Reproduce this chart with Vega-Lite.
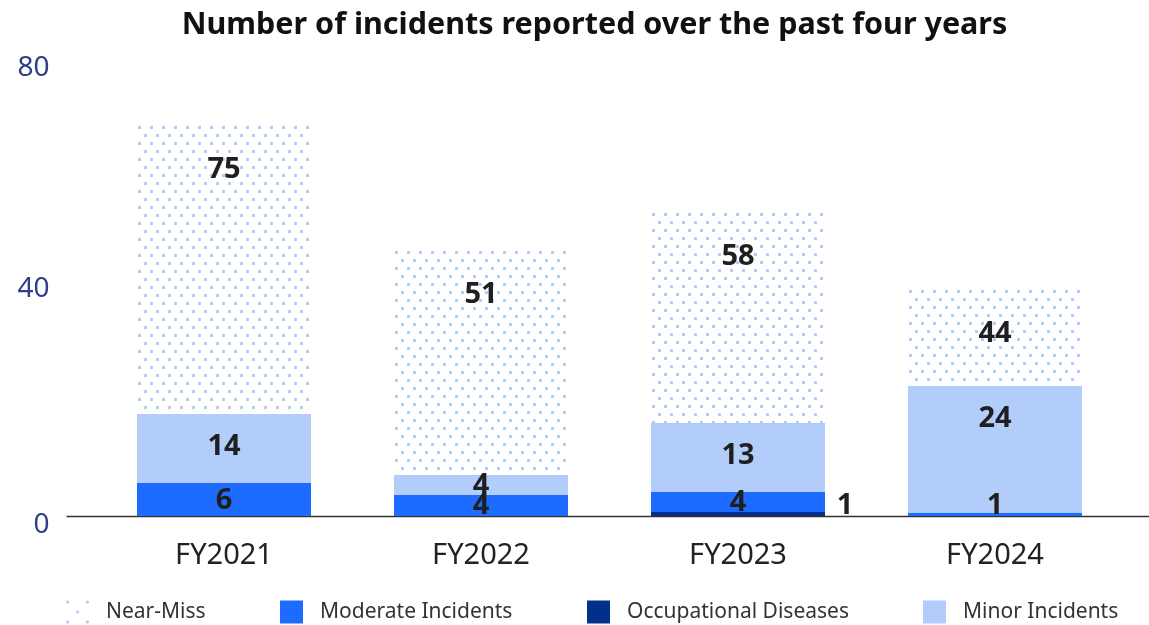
{
  "$schema": "https://vega.github.io/schema/vega-lite/v6.json",
  "width": 1083,
  "height": 443,
  "autosize": {"type": "none"},
  "padding": {"left": 66, "top": 73, "right": 0, "bottom": 109},
  "background": "white",
  "config": {"font": "Noto Sans", "view": {"stroke": null}},
  "title": {
    "text": "Number of incidents reported over the past four years",
    "fontSize": 30.5,
    "fontWeight": "bold",
    "font": "Noto Sans",
    "color": "#111111",
    "anchor": "middle",
    "offset": -2,
    "dx": -13
  },
  "data": {
    "values": [
      {"year": "FY2021", "type": "Near-Miss", "value": 75, "shown": 52.189616},
      {"year": "FY2021", "type": "Minor Incidents", "value": 14, "shown": 12.460497},
      {"year": "FY2021", "type": "Moderate Incidents", "value": 6, "shown": 5.959368},
      {"year": "FY2022", "type": "Near-Miss", "value": 51, "shown": 40.632054},
      {"year": "FY2022", "type": "Minor Incidents", "value": 4, "shown": 3.611738},
      {"year": "FY2022", "type": "Moderate Incidents", "value": 4, "shown": 3.792325},
      {"year": "FY2023", "type": "Near-Miss", "value": 58, "shown": 38.103838},
      {"year": "FY2023", "type": "Minor Incidents", "value": 13, "shown": 12.460496},
      {"year": "FY2023", "type": "Moderate Incidents", "value": 4, "shown": 3.611738},
      {"year": "FY2023", "type": "Occupational Diseases", "value": 1, "shown": 0.722348},
      {"year": "FY2024", "type": "Near-Miss", "value": 44, "shown": 17.51693},
      {"year": "FY2024", "type": "Minor Incidents", "value": 24, "shown": 22.934537},
      {"year": "FY2024", "type": "Moderate Incidents", "value": 1, "shown": 0.541761}
    ]
  },
  "transform": [
    {"calculate": "indexof(['Occupational Diseases','Moderate Incidents','Minor Incidents','Near-Miss'], datum.type)", "as": "order"},
    {"stack": "shown", "groupby": ["year"], "sort": [{"field": "order", "order": "ascending"}], "as": ["y0", "y1"]},
    {"calculate": "(datum.y0 + datum.y1) / 2", "as": "mid"},
    {"calculate": "datum.type === 'Near-Miss' ? datum.y1 - 7.9 : (datum.type === 'Minor Incidents' ? max(datum.y1 - 5.78, datum.mid) : max(datum.mid, 1.99))", "as": "labelY"}
  ],
  "encoding": {
    "x": {
      "field": "year",
      "type": "nominal",
      "sort": ["FY2021", "FY2022", "FY2023", "FY2024"],
      "scale": {"paddingInner": 0.322957, "paddingOuter": 0.2684825, "align": 0.514493},
      "axis": {
        "title": null,
        "labelAngle": 0,
        "labelFontSize": 29,
        "labelFont": "Noto Sans",
        "labelColor": "#222222",
        "ticks": false,
        "labelPadding": 24,
        "domainColor": "#333333",
        "domainWidth": 1.5
      }
    }
  },
  "layer": [
    {
      "transform": [{"filter": "datum.type !== 'Near-Miss'"}],
      "mark": {"type": "bar"},
      "encoding": {
        "y": {
          "field": "y1",
          "type": "quantitative",
          "scale": {"domain": [0, 80], "nice": false},
          "axis": {
            "title": null,
            "values": [0, 40, 80],
            "grid": false,
            "domain": false,
            "ticks": false,
            "labelFontSize": 28,
            "labelFont": "Noto Sans",
            "labelColor": "#2e3f8a",
            "labelPadding": 17,
            "labelOffset": {"condition": {"test": "datum.value === 0", "value": 8.5}, "value": -6}
          }
        },
        "y2": {"field": "y0"},
        "color": {
          "field": "type",
          "type": "nominal",
          "scale": {
            "domain": ["Near-Miss", "Moderate Incidents", "Occupational Diseases", "Minor Incidents"],
            "range": ["#b3cdfb", "#1e6cff", "#01308c", "#b3cdfb"]
          },
          "legend": {
            "orient": "none",
            "legendX": 0,
            "legendY": 527,
            "direction": "horizontal",
            "title": null,
            "padding": 0,
            "symbolSize": 529,
            "symbolType": "square",
            "symbolStrokeWidth": 0,
            "labelFontSize": 21,
            "labelFont": "Noto Sans",
            "labelColor": "#333333",
            "labelOffset": 17,
            "columnPadding": 74,
            "labelLimit": 400,
            "encode": {
              "symbols": {
                "update": {
                  "shape": {"signal": "datum.value === 'Near-Miss' ? 'M-1,-0.86a0.14,0.14 0 1,0 0.28,0a0.14,0.14 0 1,0 -0.28,0ZM0.72,-0.86a0.14,0.14 0 1,0 0.28,0a0.14,0.14 0 1,0 -0.28,0ZM-0.14,0a0.14,0.14 0 1,0 0.28,0a0.14,0.14 0 1,0 -0.28,0ZM-1,0.86a0.14,0.14 0 1,0 0.28,0a0.14,0.14 0 1,0 -0.28,0ZM0.72,0.86a0.14,0.14 0 1,0 0.28,0a0.14,0.14 0 1,0 -0.28,0Z' : 'square'"}
                }
              }
            }
          }
        }
      }
    },
    {
      "transform": [{"filter": "datum.type === 'Near-Miss'"}],
      "mark": {
        "type": "bar",
        "fill": {
          "gradient": "linear", "x1": 0, "y1": 0, "x2": 1, "y2": 0,
          "stops": [
            {"offset": 0, "color": "white"},
            {"offset": 0.004598, "color": "white"}, {"offset": 0.004598, "color": "black"}, {"offset": 0.021839, "color": "black"}, {"offset": 0.021839, "color": "white"},
            {"offset": 0.073563, "color": "white"}, {"offset": 0.073563, "color": "black"}, {"offset": 0.090805, "color": "black"}, {"offset": 0.090805, "color": "white"},
            {"offset": 0.142529, "color": "white"}, {"offset": 0.142529, "color": "black"}, {"offset": 0.159770, "color": "black"}, {"offset": 0.159770, "color": "white"},
            {"offset": 0.211494, "color": "white"}, {"offset": 0.211494, "color": "black"}, {"offset": 0.228736, "color": "black"}, {"offset": 0.228736, "color": "white"},
            {"offset": 0.280460, "color": "white"}, {"offset": 0.280460, "color": "black"}, {"offset": 0.297701, "color": "black"}, {"offset": 0.297701, "color": "white"},
            {"offset": 0.349425, "color": "white"}, {"offset": 0.349425, "color": "black"}, {"offset": 0.366667, "color": "black"}, {"offset": 0.366667, "color": "white"},
            {"offset": 0.418391, "color": "white"}, {"offset": 0.418391, "color": "black"}, {"offset": 0.435632, "color": "black"}, {"offset": 0.435632, "color": "white"},
            {"offset": 0.487356, "color": "white"}, {"offset": 0.487356, "color": "black"}, {"offset": 0.504598, "color": "black"}, {"offset": 0.504598, "color": "white"},
            {"offset": 0.556322, "color": "white"}, {"offset": 0.556322, "color": "black"}, {"offset": 0.573563, "color": "black"}, {"offset": 0.573563, "color": "white"},
            {"offset": 0.625287, "color": "white"}, {"offset": 0.625287, "color": "black"}, {"offset": 0.642529, "color": "black"}, {"offset": 0.642529, "color": "white"},
            {"offset": 0.694253, "color": "white"}, {"offset": 0.694253, "color": "black"}, {"offset": 0.711494, "color": "black"}, {"offset": 0.711494, "color": "white"},
            {"offset": 0.763218, "color": "white"}, {"offset": 0.763218, "color": "black"}, {"offset": 0.780460, "color": "black"}, {"offset": 0.780460, "color": "white"},
            {"offset": 0.832184, "color": "white"}, {"offset": 0.832184, "color": "black"}, {"offset": 0.849425, "color": "black"}, {"offset": 0.849425, "color": "white"},
            {"offset": 0.901149, "color": "white"}, {"offset": 0.901149, "color": "black"}, {"offset": 0.918391, "color": "black"}, {"offset": 0.918391, "color": "white"},
            {"offset": 0.970115, "color": "white"}, {"offset": 0.970115, "color": "black"}, {"offset": 0.987356, "color": "black"}, {"offset": 0.987356, "color": "white"},
            {"offset": 1, "color": "white"}
          ]
        }
      },
      "encoding": {
        "y": {"field": "y1", "type": "quantitative", "scale": {"domain": [0, 80], "nice": false}},
        "y2": {"field": "y0"}
      }
    },
    {
      "transform": [{"filter": "datum.type === 'Near-Miss'"}],
      "mark": {"type": "rule", "color": "white", "strokeWidth": 174, "strokeCap": "butt", "strokeDash": [3, 13], "strokeDashOffset": 7, "blend": "difference"},
      "encoding": {
        "y": {"field": "y1", "type": "quantitative", "scale": {"domain": [0, 80], "nice": false}},
        "y2": {"field": "y0"}
      }
    },
    {
      "transform": [{"filter": "datum.type === 'Near-Miss'"}],
      "mark": {"type": "rule", "color": "white", "strokeWidth": 174, "strokeCap": "butt", "strokeDash": [5, 3], "strokeDashOffset": 4},
      "encoding": {
        "y": {"field": "y1", "type": "quantitative", "scale": {"domain": [0, 80], "nice": false}},
        "y2": {"field": "y0"}
      }
    },
    {
      "transform": [{"filter": "datum.type === 'Near-Miss'"}],
      "mark": {
        "type": "bar",
        "fill": {
          "gradient": "linear", "x1": 0, "y1": 0, "x2": 1, "y2": 0,
          "stops": [
            {"offset": 0, "color": "white"},
            {"offset": 0.004598, "color": "white"}, {"offset": 0.004598, "color": "rgba(255,255,255,0)"}, {"offset": 0.021839, "color": "rgba(255,255,255,0)"}, {"offset": 0.021839, "color": "white"},
            {"offset": 0.039080, "color": "white"}, {"offset": 0.039080, "color": "rgba(255,255,255,0)"}, {"offset": 0.056322, "color": "rgba(255,255,255,0)"}, {"offset": 0.056322, "color": "white"},
            {"offset": 0.073563, "color": "white"}, {"offset": 0.073563, "color": "rgba(255,255,255,0)"}, {"offset": 0.090805, "color": "rgba(255,255,255,0)"}, {"offset": 0.090805, "color": "white"},
            {"offset": 0.108046, "color": "white"}, {"offset": 0.108046, "color": "rgba(255,255,255,0)"}, {"offset": 0.125287, "color": "rgba(255,255,255,0)"}, {"offset": 0.125287, "color": "white"},
            {"offset": 0.142529, "color": "white"}, {"offset": 0.142529, "color": "rgba(255,255,255,0)"}, {"offset": 0.159770, "color": "rgba(255,255,255,0)"}, {"offset": 0.159770, "color": "white"},
            {"offset": 0.177011, "color": "white"}, {"offset": 0.177011, "color": "rgba(255,255,255,0)"}, {"offset": 0.194253, "color": "rgba(255,255,255,0)"}, {"offset": 0.194253, "color": "white"},
            {"offset": 0.211494, "color": "white"}, {"offset": 0.211494, "color": "rgba(255,255,255,0)"}, {"offset": 0.228736, "color": "rgba(255,255,255,0)"}, {"offset": 0.228736, "color": "white"},
            {"offset": 0.245977, "color": "white"}, {"offset": 0.245977, "color": "rgba(255,255,255,0)"}, {"offset": 0.263218, "color": "rgba(255,255,255,0)"}, {"offset": 0.263218, "color": "white"},
            {"offset": 0.280460, "color": "white"}, {"offset": 0.280460, "color": "rgba(255,255,255,0)"}, {"offset": 0.297701, "color": "rgba(255,255,255,0)"}, {"offset": 0.297701, "color": "white"},
            {"offset": 0.314943, "color": "white"}, {"offset": 0.314943, "color": "rgba(255,255,255,0)"}, {"offset": 0.332184, "color": "rgba(255,255,255,0)"}, {"offset": 0.332184, "color": "white"},
            {"offset": 0.349425, "color": "white"}, {"offset": 0.349425, "color": "rgba(255,255,255,0)"}, {"offset": 0.366667, "color": "rgba(255,255,255,0)"}, {"offset": 0.366667, "color": "white"},
            {"offset": 0.383908, "color": "white"}, {"offset": 0.383908, "color": "rgba(255,255,255,0)"}, {"offset": 0.401149, "color": "rgba(255,255,255,0)"}, {"offset": 0.401149, "color": "white"},
            {"offset": 0.418391, "color": "white"}, {"offset": 0.418391, "color": "rgba(255,255,255,0)"}, {"offset": 0.435632, "color": "rgba(255,255,255,0)"}, {"offset": 0.435632, "color": "white"},
            {"offset": 0.452874, "color": "white"}, {"offset": 0.452874, "color": "rgba(255,255,255,0)"}, {"offset": 0.470115, "color": "rgba(255,255,255,0)"}, {"offset": 0.470115, "color": "white"},
            {"offset": 0.487356, "color": "white"}, {"offset": 0.487356, "color": "rgba(255,255,255,0)"}, {"offset": 0.504598, "color": "rgba(255,255,255,0)"}, {"offset": 0.504598, "color": "white"},
            {"offset": 0.521839, "color": "white"}, {"offset": 0.521839, "color": "rgba(255,255,255,0)"}, {"offset": 0.539080, "color": "rgba(255,255,255,0)"}, {"offset": 0.539080, "color": "white"},
            {"offset": 0.556322, "color": "white"}, {"offset": 0.556322, "color": "rgba(255,255,255,0)"}, {"offset": 0.573563, "color": "rgba(255,255,255,0)"}, {"offset": 0.573563, "color": "white"},
            {"offset": 0.590805, "color": "white"}, {"offset": 0.590805, "color": "rgba(255,255,255,0)"}, {"offset": 0.608046, "color": "rgba(255,255,255,0)"}, {"offset": 0.608046, "color": "white"},
            {"offset": 0.625287, "color": "white"}, {"offset": 0.625287, "color": "rgba(255,255,255,0)"}, {"offset": 0.642529, "color": "rgba(255,255,255,0)"}, {"offset": 0.642529, "color": "white"},
            {"offset": 0.659770, "color": "white"}, {"offset": 0.659770, "color": "rgba(255,255,255,0)"}, {"offset": 0.677011, "color": "rgba(255,255,255,0)"}, {"offset": 0.677011, "color": "white"},
            {"offset": 0.694253, "color": "white"}, {"offset": 0.694253, "color": "rgba(255,255,255,0)"}, {"offset": 0.711494, "color": "rgba(255,255,255,0)"}, {"offset": 0.711494, "color": "white"},
            {"offset": 0.728736, "color": "white"}, {"offset": 0.728736, "color": "rgba(255,255,255,0)"}, {"offset": 0.745977, "color": "rgba(255,255,255,0)"}, {"offset": 0.745977, "color": "white"},
            {"offset": 0.763218, "color": "white"}, {"offset": 0.763218, "color": "rgba(255,255,255,0)"}, {"offset": 0.780460, "color": "rgba(255,255,255,0)"}, {"offset": 0.780460, "color": "white"},
            {"offset": 0.797701, "color": "white"}, {"offset": 0.797701, "color": "rgba(255,255,255,0)"}, {"offset": 0.814943, "color": "rgba(255,255,255,0)"}, {"offset": 0.814943, "color": "white"},
            {"offset": 0.832184, "color": "white"}, {"offset": 0.832184, "color": "rgba(255,255,255,0)"}, {"offset": 0.849425, "color": "rgba(255,255,255,0)"}, {"offset": 0.849425, "color": "white"},
            {"offset": 0.866667, "color": "white"}, {"offset": 0.866667, "color": "rgba(255,255,255,0)"}, {"offset": 0.883908, "color": "rgba(255,255,255,0)"}, {"offset": 0.883908, "color": "white"},
            {"offset": 0.901149, "color": "white"}, {"offset": 0.901149, "color": "rgba(255,255,255,0)"}, {"offset": 0.918391, "color": "rgba(255,255,255,0)"}, {"offset": 0.918391, "color": "white"},
            {"offset": 0.935632, "color": "white"}, {"offset": 0.935632, "color": "rgba(255,255,255,0)"}, {"offset": 0.952874, "color": "rgba(255,255,255,0)"}, {"offset": 0.952874, "color": "white"},
            {"offset": 0.970115, "color": "white"}, {"offset": 0.970115, "color": "rgba(255,255,255,0)"}, {"offset": 0.987356, "color": "rgba(255,255,255,0)"}, {"offset": 0.987356, "color": "white"},
            {"offset": 1, "color": "white"}
          ]
        }
      },
      "encoding": {
        "y": {"field": "y1", "type": "quantitative", "scale": {"domain": [0, 80], "nice": false}},
        "y2": {"field": "y0"}
      }
    },
    {
      "transform": [{"filter": "datum.type === 'Near-Miss'"}],
      "mark": {"type": "bar", "fill": "#b3cdfb", "blend": "lighten"},
      "encoding": {
        "y": {"field": "y1", "type": "quantitative", "scale": {"domain": [0, 80], "nice": false}},
        "y2": {"field": "y0"}
      }
    },
    {
      "transform": [{"filter": "datum.type !== 'Occupational Diseases'"}],
      "mark": {"type": "text", "fontSize": 29, "fontWeight": "bold", "font": "Noto Sans", "color": "#1f1f1f", "align": "center", "baseline": "middle"},
      "encoding": {
        "y": {"field": "labelY", "type": "quantitative", "scale": {"domain": [0, 80], "nice": false}},
        "text": {"field": "value", "type": "quantitative"}
      }
    },
    {
      "transform": [{"filter": "datum.type === 'Occupational Diseases'"}],
      "mark": {"type": "text", "fontSize": 29, "fontWeight": "bold", "font": "Noto Sans", "color": "#1f1f1f", "align": "center", "baseline": "middle", "dx": 107},
      "encoding": {
        "y": {"field": "labelY", "type": "quantitative", "scale": {"domain": [0, 80], "nice": false}},
        "text": {"field": "value", "type": "quantitative"}
      }
    }
  ]
}
